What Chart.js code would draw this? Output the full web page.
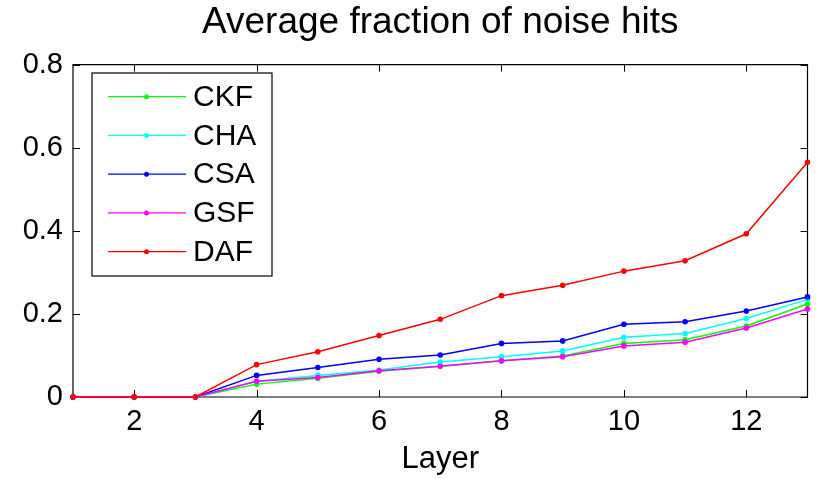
<!DOCTYPE html>
<html>
<head>
<meta charset="utf-8">
<script src="https://cdn.jsdelivr.net/npm/chart.js@4/dist/chart.umd.min.js"></script>
<style>
html,body{margin:0;padding:0;background:#fff;}
#wrap{width:818px;height:479px;}
</style>
</head>
<body>
<div id="wrap"><canvas id="c" width="818" height="479"></canvas></div>
<script>
const layers = [1,2,3,4,5,6,7,8,9,10,11,12,13];
const seriesNames = ['CKF','CHA','CSA','GSF','DAF'];
const seriesColors = ['#00ff00','#00ffff','#0000ff','#ff00ff','#ff0000'];
const CKF = [0,0,0,0.031,0.045,0.062,0.074,0.087,0.099,0.129,0.138,0.171,0.224];
const CHA = [0,0,0,0.038,0.052,0.065,0.084,0.097,0.111,0.144,0.153,0.189,0.235];
const CSA = [0,0,0,0.052,0.071,0.091,0.101,0.129,0.135,0.175,0.181,0.207,0.241];
const GSF = [0,0,0,0.038,0.047,0.063,0.074,0.087,0.097,0.123,0.132,0.166,0.212];
const DAF = [0,0,0,0.078,0.109,0.148,0.187,0.244,0.269,0.303,0.328,0.393,0.565];
const xTicks = [2,4,6,8,10,12];
const yTicks = [0,0.2,0.4,0.6,0.8];
const titleText = 'Average fraction of noise hits';
const xTitle = 'Layer';

const seriesValues = [CKF,CHA,CSA,GSF,DAF];
const FONT = "'Liberation Sans', Arial, Helvetica, sans-serif";

const datasets = seriesNames.map((n,i)=>({
  label:n,
  data: layers.map((x,j)=>({x:x,y:seriesValues[i][j]})),
  borderColor: seriesColors[i],
  backgroundColor: seriesColors[i],
  pointBackgroundColor: seriesColors[i],
  pointBorderColor: seriesColors[i],
  borderWidth:1.5,
  pointRadius:2.8,
  pointBorderWidth:0,
  pointHoverRadius:2.8,
  tension:0,
  clip:false,
  order: seriesNames.length - i
}));

const boxPlugin = {
  id:'boxPlugin',
  beforeDatasetsDraw(chart){
    const {ctx, chartArea:a, scales} = chart;
    ctx.save();
    ctx.strokeStyle = '#000';
    ctx.lineWidth = 1.2;
    ctx.beginPath();
    ctx.rect(a.left, a.top, a.right-a.left, a.bottom-a.top);
    ctx.stroke();
    ctx.lineWidth = 1;
    const tl = 7;
    ctx.beginPath();
    xTicks.forEach(v=>{
      const px = Math.round(scales.x.getPixelForValue(v))+0.5;
      ctx.moveTo(px, a.bottom); ctx.lineTo(px, a.bottom-tl);
      ctx.moveTo(px, a.top); ctx.lineTo(px, a.top+tl);
    });
    yTicks.forEach(v=>{
      const py = Math.round(scales.y.getPixelForValue(v))+0.5;
      ctx.moveTo(a.left, py); ctx.lineTo(a.left+tl, py);
      ctx.moveTo(a.right, py); ctx.lineTo(a.right-tl, py);
    });
    ctx.stroke();
    ctx.restore();
  },
  afterDraw(chart){
    const {ctx} = chart;
    const bx = 92, by = 73, bw = 180, bh = 203;
    ctx.save();
    ctx.fillStyle = '#fff';
    ctx.fillRect(bx, by, bw, bh);
    ctx.strokeStyle = '#000';
    ctx.lineWidth = 1.2;
    ctx.strokeRect(bx, by, bw, bh);
    ctx.font = '30px ' + FONT;
    ctx.textBaseline = 'middle';
    ctx.textAlign = 'left';
    chart.data.datasets.forEach((ds,i)=>{
      const y = 96.7 + i*38.75;
      ctx.strokeStyle = ds.borderColor;
      ctx.lineWidth = 1.2;
      ctx.beginPath();
      ctx.moveTo(108, y); ctx.lineTo(186, y);
      ctx.stroke();
      ctx.fillStyle = ds.borderColor;
      ctx.beginPath();
      ctx.arc(146.5, y, 2.5, 0, Math.PI*2);
      ctx.fill();
      ctx.fillStyle = '#000';
      ctx.fillText(ds.label, 193, y+1);
    });
    ctx.restore();
  }
};

new Chart(document.getElementById('c'), {
  type:'line',
  data:{datasets},
  options:{
    responsive:false,
    animation:false,
    events:[],
    layout:{padding:{top:0,right:10.5,left:0,bottom:0}},
    plugins:{
      legend:{display:false},
      tooltip:{enabled:false},
      title:{display:true,text:titleText,color:'#000',fullSize:false,
        font:{family:FONT,size:37,weight:'normal',lineHeight:1.2},
        padding:{top:0.5,bottom:19.8}}
    },
    scales:{
      x:{type:'linear',min:1,max:13,
        afterBuildTicks(s){ s.ticks = xTicks.map(v=>({value:v})); },
        afterFit(s){ s.height = 82; },
        grid:{display:false,drawTicks:false},
        border:{display:false},
        ticks:{color:'#000',padding:8,font:{family:FONT,size:29},maxRotation:0,autoSkip:false},
        title:{display:true,text:xTitle,color:'#000',font:{family:FONT,size:31},padding:{top:0,bottom:1.4}}
      },
      y:{type:'linear',min:0,max:0.8,
        afterBuildTicks(s){ s.ticks = yTicks.map(v=>({value:v})); },
        afterFit(s){ s.width = 73; },
        grid:{display:false,drawTicks:false},
        border:{display:false},
        ticks:{color:'#000',padding:10,font:{family:FONT,size:29},
          callback:(v)=>String(Math.round(v*10)/10)}
      }
    }
  },
  plugins:[boxPlugin]
});
</script>
</body>
</html>
